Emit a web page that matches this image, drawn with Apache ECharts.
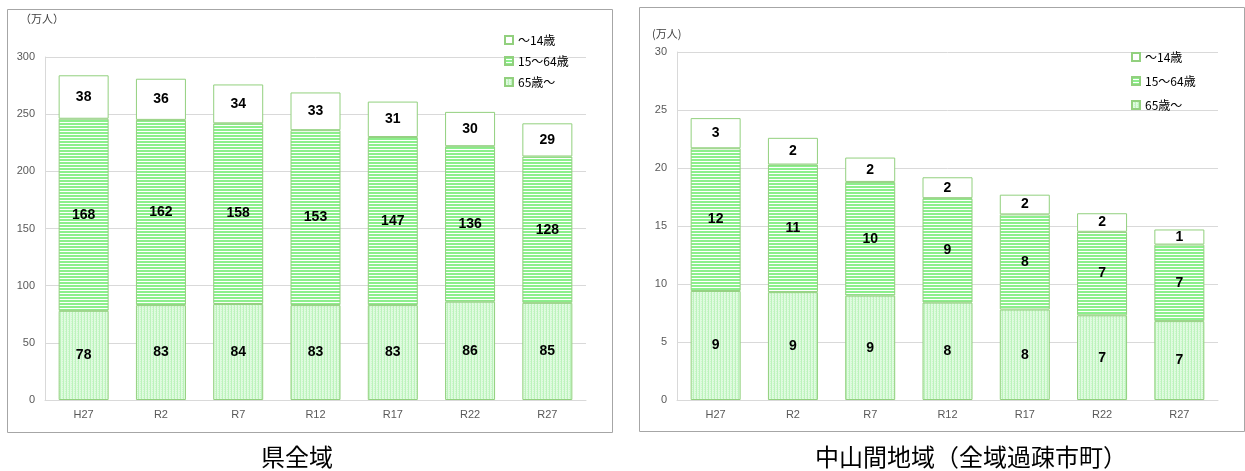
<!DOCTYPE html>
<html><head><meta charset="utf-8">
<script src="https://cdn.jsdelivr.net/npm/echarts@6/dist/echarts.min.js"></script>
<style>html,body{margin:0;padding:0;background:#fff}#c{width:1245px;height:471px}</style>
</head><body><div id="c"></div>
<script>
const categories = ['H27','R2','R7','R12','R17','R22','R27'];
const seriesNames = ['～14歳','15～64歳','65歳～'];
// 県全域 (万人)
const prefOld = [78, 83, 84, 83, 83, 86, 85];
const prefWork = [168, 162, 158, 153, 147, 136, 128];
const prefYoung = [38, 36, 34, 33, 31, 30, 29];
// 中山間地域 (万人)
const mtOld = [9.4, 9.3, 9.0, 8.4, 7.8, 7.3, 6.8];
const mtWork = [12.3, 11.0, 9.8, 9.0, 8.2, 7.2, 6.6];
const mtYoung = [2.6, 2.3, 2.1, 1.8, 1.7, 1.6, 1.3];
const leftTicks = {min: 0, max: 300, interval: 50};
const rightTicks = {min: 0, max: 30, interval: 5};
const titles = ['県全域', '中山間地域（全域過疎市町）'];
const unit = '（万人）';

function makePattern(w, h, draw) {
  const c = document.createElement('canvas'); c.width = w; c.height = h;
  const g = c.getContext('2d'); draw(g); return c;
}
const stripe = makePattern(4, 3, g => {
  g.fillStyle = '#ffffff'; g.fillRect(0,0,4,3);
  g.fillStyle = '#8cef8c'; g.fillRect(0,0,4,2);
});
const dots = makePattern(3, 4, g => {
  g.fillStyle = '#e0fbe0'; g.fillRect(0,0,3,4);
  g.fillStyle = '#bcf3bc'; g.fillRect(0,0,1,4);
  g.fillStyle = '#cdf7cd'; g.fillRect(2,1,1,1); g.fillRect(2,3,1,1);
});
const fills = {
  young: '#ffffff',
  work: {image: stripe, repeat: 'repeat'},
  old: {image: dots, repeat: 'repeat'}
};
const border = '#92d07e';

const chart = echarts.init(document.getElementById('c'), null, {renderer: 'canvas'});
function mkSeries(name, data, idx, fill, round) {
  return {
    name, type: 'bar', stack: 's' + idx, xAxisIndex: idx, yAxisIndex: idx,
    data, barWidth: 50,
    itemStyle: {color: fill, borderColor: border, borderWidth: 1},
    label: {show: true, position: 'inside', color: '#000', fontWeight: 'bold',
      fontSize: 14, fontFamily: 'Liberation Sans, Arial, sans-serif',
      formatter: p => round ? Math.round(p.value) : p.value},
    emphasis: {disabled: true}
  };
}
const axisLabel = {color: '#595959', fontSize: 11, fontFamily: 'Liberation Sans, Arial, sans-serif'};
const legendBase = {orient: 'vertical', icon: 'rect', itemWidth: 8, itemHeight: 8,
  itemGap: 12, textStyle: {color: '#000', fontSize: 12, fontFamily: 'Noto Sans CJK JP'},
  data: seriesNames, selectedMode: false};

chart.setOption({
  animation: false,
  graphic: [
    {type: 'rect', shape: {x: 7.5, y: 9.5, width: 605, height: 423}, style: {fill: 'none', stroke: '#a6a6a6', lineWidth: 1}, z: -1},
    {type: 'rect', shape: {x: 639.5, y: 7.5, width: 605, height: 424}, style: {fill: 'none', stroke: '#a6a6a6', lineWidth: 1}, z: -1},
    {type: 'text', left: 20, top: 13, style: {text: unit, fill: '#404040', fontSize: 11, fontFamily: 'Noto Sans CJK JP'}},
    {type: 'text', left: 652, top: 28, style: {text: '(万人)', fill: '#404040', fontSize: 11, fontFamily: 'Noto Sans CJK JP'}},
    {type: 'text', x: 297, y: 457, style: {text: titles[0], fill: '#000', fontSize: 24, fontFamily: 'Noto Sans CJK JP', align: 'center', verticalAlign: 'middle'}},
    {type: 'text', x: 971, y: 457, style: {text: titles[1], fill: '#000', fontSize: 24, fontFamily: 'Noto Sans CJK JP', align: 'center', verticalAlign: 'middle'}}
  ],
  grid: [
    {left: 45, top: 57, width: 541, height: 343},
    {left: 677, top: 52, width: 541, height: 348}
  ],
  legend: [
    Object.assign({}, legendBase, {left: 499, top: 29, itemGap: 9}),
    Object.assign({}, legendBase, {left: 1126, top: 46, itemGap: 12})
  ],
  xAxis: [0, 1].map(i => ({
    type: 'category', gridIndex: i, data: categories,
    axisLine: {lineStyle: {color: '#d9d9d9'}}, axisTick: {show: false},
    axisLabel: Object.assign({margin: 9}, axisLabel)
  })),
  yAxis: [leftTicks, rightTicks].map((t, i) => ({
    type: 'value', gridIndex: i, min: t.min, max: t.max, interval: t.interval,
    axisLine: {show: true, lineStyle: {color: '#d9d9d9'}}, axisTick: {show: false},
    splitLine: {lineStyle: {color: '#d9d9d9'}},
    axisLabel: Object.assign({margin: 10}, axisLabel)
  })),
  series: [
    mkSeries(seriesNames[2], prefOld, 0, fills.old, false),
    mkSeries(seriesNames[1], prefWork, 0, fills.work, false),
    mkSeries(seriesNames[0], prefYoung, 0, fills.young, false),
    mkSeries(seriesNames[2], mtOld, 1, fills.old, true),
    mkSeries(seriesNames[1], mtWork, 1, fills.work, true),
    mkSeries(seriesNames[0], mtYoung, 1, fills.young, true)
  ]
});
</script></body></html>
